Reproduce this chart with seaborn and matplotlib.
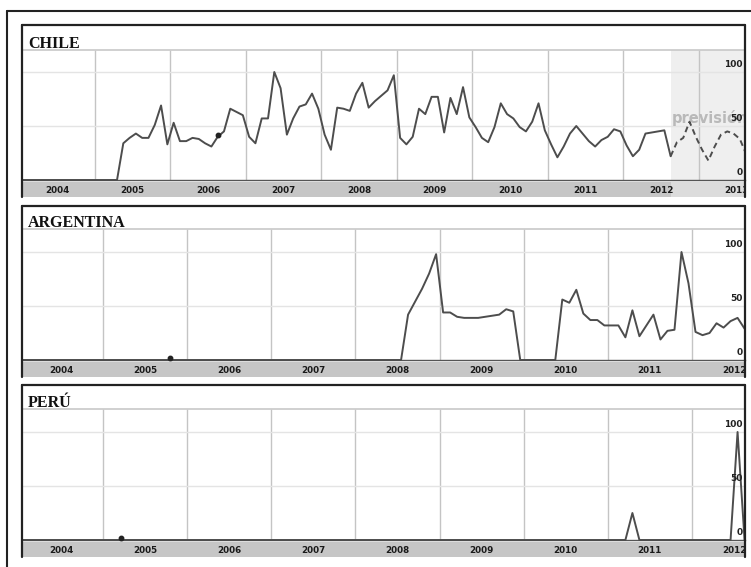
import numpy as np
import pandas as pd
import seaborn as sns
import matplotlib.pyplot as plt
from matplotlib.lines import Line2D
from matplotlib.transforms import blended_transform_factory

# monthly interest values, index 0 = Jan 2004
chile = ([0] * 16 +
         [34, 39, 43, 39, 39, 51, 69, 33, 53, 36, 36, 39, 38, 34, 31, 40, 45, 66, 63, 60, 40, 34] +
         [57, 57, 100, 85, 42, 57, 68, 70, 80, 66, 42, 28, 67, 66, 64, 80, 90, 67, 73, 78, 83, 97, 39, 33, 40, 66] +
         [61, 77, 77, 44, 76, 61, 86, 58, 49, 39, 35, 49, 71, 61, 57, 49, 45, 54, 71, 46, 33, 21, 31, 43, 50] +
         [43, 36, 31, 37, 40, 47, 45, 32, 22, 28, 43, 44, 45, 46, 22])
# forecast starts at the last real month (index 103)
chile_forecast = [22, 35, 39, 54, 40, 28, 18, 31, 42, 45, 43, 38, 24]
argentina = ([0] * 55 +
             [42, 54, 66, 80, 98, 44, 44, 40, 39, 39, 39, 40, 41, 42, 47, 45] +
             [0] * 6 +
             [56, 53, 65, 43, 37, 37, 32, 32, 32, 21, 46, 22, 32, 42, 19, 27, 28, 100, 71, 26, 23, 25, 34, 30, 36, 39, 29])
peru = [0] * 104
peru[87] = 25
peru[102] = 100

years_chile = list(range(2004, 2014))
years_other = list(range(2004, 2013))
y_labels = [100, 50, 0]

W, H = 751, 567
LINE = '#4d4d4d'


def month_x(n, start=0):
    return 2004 + (np.arange(start, start + n) + 0.5) / 12


def box(x0, x1, y0, y1):
    return [x0 / W, 1 - y1 / H, (x1 - x0) / W, (y1 - y0) / H]


def fig_line(fig, xs, ys, lw=1.6, color='#222222'):
    fig.add_artist(Line2D([x / W for x in xs], [1 - y / H for y in ys],
                          transform=fig.transFigure, color=color, lw=lw))


def draw_panel(fig, top, sep, base, name, series, years, xmin, xmax,
               forecast=None, dot=None):
    ymax = (base - top) / 1.08
    sep_v = (base - sep) / 1.08
    ax = fig.add_axes(box(22, 745, top, base))
    ax.set_xlim(xmin, xmax)
    ax.set_ylim(0, ymax)

    if forecast is not None:
        fx0 = month_x(1, 103)[0]
        ax.axvspan(fx0, xmax, ymin=0, ymax=sep_v / ymax, color='#efefef', lw=0, zorder=0)

    grid_years = [y for y in years if y > xmin]
    ax.vlines(grid_years, 0, sep_v, color='#c4c4c4', lw=1, zorder=1)
    for v in (50, 100):
        ax.axhline(v, color='#e4e4e4', lw=1, zorder=1)
    ax.axhline(sep_v, color='#c8c8c8', lw=1.2, zorder=1)

    df = pd.DataFrame({'x': month_x(len(series)), 'y': series})
    sns.lineplot(data=df, x='x', y='y', ax=ax, color=LINE, lw=1.4, clip_on=False, zorder=3)
    if forecast is not None:
        dff = pd.DataFrame({'x': month_x(len(forecast), 103), 'y': forecast})
        sns.lineplot(data=dff, x='x', y='y', ax=ax, color=LINE, lw=1.4,
                     linestyle=(0, (3, 2)), zorder=3)
        ax.text(fx0 + 0.02, 52.8, 'previsión', color='#b9b9b9', fontsize=10.5,
                fontweight='bold', ha='left', va='baseline', clip_on=True, zorder=2)
    if dot is not None:
        ax.plot(month_x(1, dot)[0], series[dot] + 1.5, 'o', ms=3.2, color='#222222',
                clip_on=False, zorder=4)

    ax.set_xticks(grid_years)
    ax.set_xticks(np.arange(np.ceil(xmin * 4) / 4, xmax, 0.25), minor=True)
    ax.tick_params(axis='x', which='major', direction='out', length=4, width=1.3,
                   color='#222222', labelbottom=False)
    ax.tick_params(axis='x', which='minor', direction='out', length=3, width=0.8,
                   color='#333333')
    ax.set_yticks([])
    ax.set_xlabel('')
    ax.set_ylabel('')
    for s in ('left', 'top', 'right'):
        ax.spines[s].set_visible(False)
    ax.spines['bottom'].set_color('#555555')
    ax.spines['bottom'].set_linewidth(1)

    trans = blended_transform_factory(ax.transAxes, ax.transData)
    for v in y_labels:
        ax.text((743 - 22) / 723, v + 7, str(v), transform=trans, ha='right',
                va='center', fontsize=6.5, fontweight='bold', color='#222222', zorder=5)

    ax.text((28 - 22) / 723, sep_v + 1.5, name, transform=trans, ha='left',
            va='baseline', fontsize=11.5, fontweight='bold', family='Liberation Serif',
            color='#111111')

    # year strip
    axs = fig.add_axes(box(22, 745, base + 2, base + 17))
    axs.set_facecolor('#c6c6c6')
    axs.set_xlim(xmin, xmax)
    axs.set_ylim(0, 1)
    if forecast is not None:
        axs.axvspan(month_x(1, 103)[0], xmax, color='#dcdcdc', lw=0)
    for y in years:
        axs.text(y + 0.5, 0.45, str(y), ha='center', va='center', fontsize=6.3,
                 fontweight='bold', color='#1a1a1a', clip_on=True)
    axs.set_xticks([])
    axs.set_yticks([])
    for s in axs.spines.values():
        s.set_visible(False)

    fig_line(fig, [22, 22], [top, base + 17])
    fig_line(fig, [22, 745], [top, top])
    fig_line(fig, [745, 745], [top, base + 17])
    return ax


sns.set_style('white')
fig = plt.figure(figsize=(7.51, 5.67), dpi=100)

draw_panel(fig, 25, 50, 180, 'CHILE', chile, years_chile, 2004.033, 2013.61,
           forecast=chile_forecast, dot=31)
draw_panel(fig, 206, 229, 360, 'ARGENTINA', argentina, years_other, 2004.036, 2012.63,
           dot=21)
draw_panel(fig, 385, 409, 540, 'PERÚ', peru, years_other, 2004.036, 2012.63, dot=14)

# outer frame
fig_line(fig, [7, 7], [11, 567], lw=1.5)
fig_line(fig, [7, 751], [11, 11], lw=1.5)

fig.savefig('out.png', dpi=100)
